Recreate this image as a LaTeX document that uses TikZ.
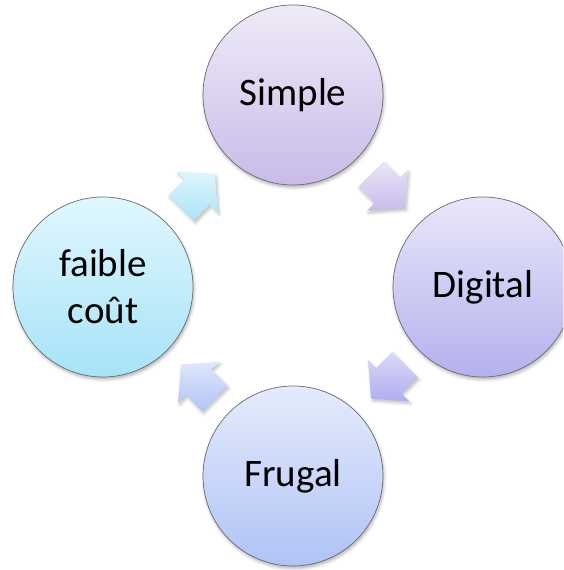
\documentclass[tikz,border=0pt]{standalone}
\usepackage{fontspec}
\setmainfont{Carlito}
\usetikzlibrary{calc,shadows.blur}

% gradient colours, light (top) and dark (bottom) for each element
\definecolor{simpleTop}{HTML}{EFEBF8}
\definecolor{simpleBot}{HTML}{C9BBE8}
\definecolor{digitalTop}{HTML}{E9E7F9}
\definecolor{digitalBot}{HTML}{B4B1EE}
\definecolor{frugalTop}{HTML}{E5EBFC}
\definecolor{frugalBot}{HTML}{AFC3F6}
\definecolor{coutTop}{HTML}{E0F7FD}
\definecolor{coutBot}{HTML}{A6E3F8}
\definecolor{arrA}{HTML}{DEF6FC}
\definecolor{arrAb}{HTML}{ACE4F8}
\definecolor{arrB}{HTML}{EBE5F7}
\definecolor{arrBb}{HTML}{C8BCEB}
\definecolor{arrC}{HTML}{DCDAF7}
\definecolor{arrCb}{HTML}{AEADEF}
\definecolor{arrD}{HTML}{E0E7FB}
\definecolor{arrDb}{HTML}{B1C4F8}
\definecolor{rim}{HTML}{6A6A70}

\tikzset{
  stage/.style={circle, minimum size=180pt, inner sep=0pt, draw=rim,
    line width=0.7pt, align=center, font=\fontsize{39}{47}\selectfont,
    blur shadow={shadow xshift=1pt, shadow yshift=-2.5pt,
      shadow blur radius=3pt, shadow opacity=30}},
  blockarrow/.style={draw=none,
    blur shadow={shadow xshift=1.5pt, shadow yshift=-2.5pt,
      shadow blur radius=3pt, shadow opacity=25}},
}

% block arrow centred at #1, pointing at angle #2, with gradient #3 -> #4
\newcommand{\cyclearrow}[4]{%
  \path[blockarrow, top color=#3, bottom color=#4, shift={(#1)}, rotate=#2]
    (-24,-18) -- (-1,-18) -- (-1,-29) -- (24,0) -- (-1,29) -- (-1,18)
    -- (-24,18) -- cycle;}

\begin{document}
\begin{tikzpicture}[x=1pt, y=1pt]
  \useasboundingbox (0,0) rectangle (563,570);
  \clip (0,0) rectangle (563,570);

  \node[stage, top color=simpleTop, bottom color=simpleBot]
    (simple) at (293,475) {Simple};
  \node[stage, top color=digitalTop, bottom color=digitalBot]
    (digital) at (483,283) {Digital};
  \node[stage, top color=frugalTop, bottom color=frugalBot]
    (frugal) at (293,94) {Frugal};
  \node[stage, top color=coutTop, bottom color=coutBot]
    (cout) at (103,283) {faible\\coût};

  % arrows halfway between neighbouring stages, clockwise
  \coordinate (m1) at ($(cout)!0.5!(simple)$);
  \coordinate (m2) at ($(simple)!0.5!(digital)$);
  \coordinate (m3) at ($(digital)!0.5!(frugal)$);
  \coordinate (m4) at ($(frugal)!0.5!(cout)$);

  \cyclearrow{m1}{45}{arrA}{arrAb}
  \cyclearrow{m2}{-45}{arrB}{arrBb}
  \cyclearrow{m3}{-135}{arrC}{arrCb}
  \cyclearrow{m4}{135}{arrD}{arrDb}
\end{tikzpicture}
\end{document}
